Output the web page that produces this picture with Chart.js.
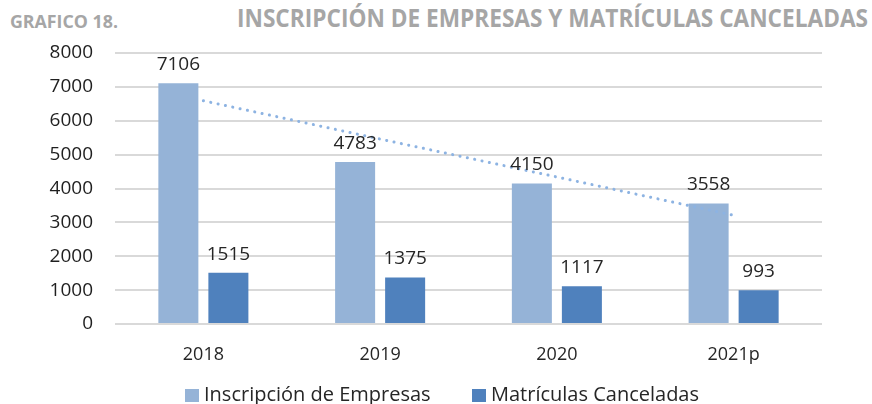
<!DOCTYPE html>
<html>
<head>
<meta charset="utf-8">
<script src="https://cdn.jsdelivr.net/npm/chart.js@4.4.1/dist/chart.umd.min.js"></script>
<style>
  html, body { margin: 0; padding: 0; background: #fff; }
  #wrap { position: relative; width: 872px; height: 404px; overflow: hidden; }
  #grafico { position: absolute; left: 0; top: 0; }
  .titulo { position: absolute; font-family: "Open Sans", sans-serif; font-weight: 700; color: #a6a6a6; white-space: nowrap; transform-origin: 0 0; }
  #t_num { left: 10px; top: 10px; font-size: 17px; }
  #t_main { left: 237px; top: 0px; font-size: 25px; }
  .leg { position: absolute; top: 380px; font-family: "Open Sans", sans-serif; font-size: 20px; color: #262626; white-space: nowrap; line-height: 28px; }
  .leg i { display: inline-block; width: 14px; height: 13px; margin-right: 5px; vertical-align: -1px; }
</style>
</head>
<body>
<div id="wrap">
  <div class="titulo" id="t_num">GRAFICO 18.</div>
  <div class="titulo" id="t_main">INSCRIPCIÓN DE EMPRESAS Y MATRÍCULAS CANCELADAS</div>
  <canvas id="grafico" width="872" height="404"></canvas>
  <div class="leg" id="leg0" style="left:185px"></div>
  <div class="leg" id="leg1" style="left:472px"></div>
</div>
<script>
// dados
const anos = ['2018', '2019', '2020', '2021p']
const inscripcion = [7106, 4783, 4150, 3558]
const canceladas = [1515, 1375, 1117, 993]
// linea de tendencia
const tendencia = [6590, 5460, 4340, 3210]
const ticks_y = [0, 1000, 2000, 3000, 4000, 5000, 6000, 7000, 8000]

const cor_inscripcion = '#95b3d7'
const cor_canceladas = '#4f81bd'

// ajustar largura dos titulos
function ajustar(id, largura) {
    const el = document.getElementById(id)
    const w = el.getBoundingClientRect().width
    el.style.transform = 'scaleX(' + (largura / w) + ')'
}
ajustar('t_num', 108)
ajustar('t_main', 631)

const fonte = '"Open Sans", sans-serif'

// rotulos em cima das barras
const rotulos = {
    id: 'rotulos',
    afterDatasetsDraw(chart) {
        const ctx = chart.ctx
        ctx.save()
        ctx.font = '19px ' + fonte
        ctx.fillStyle = '#262626'
        ctx.textAlign = 'center'
        ctx.textBaseline = 'alphabetic'
        chart.data.datasets.forEach((ds, i) => {
            if (ds.type == 'line') return
            chart.getDatasetMeta(i).data.forEach((bar, j) => {
                ctx.fillText(ds.data[j], bar.x, bar.y - 13)
            })
        })
        ctx.restore()
    }
}

const config = {
    type: 'bar',
    data: {
        labels: anos,
        datasets: [
            {
                type: 'line',
                label: 'Tendencia',
                data: tendencia,
                borderColor: '#8db3e2',
                borderWidth: 3,
                borderDash: [0.1, 7.4],
                borderCapStyle: 'round',
                pointRadius: 0,
                fill: false,
                order: 0
            },
            {
                label: 'Inscripción de Empresas',
                data: inscripcion,
                backgroundColor: cor_inscripcion,
                order: 1
            },
            {
                label: 'Matrículas Canceladas',
                data: canceladas,
                backgroundColor: cor_canceladas,
                order: 1
            }
        ]
    },
    options: {
        responsive: false,
        animation: false,
        categoryPercentage: 0.566,
        barPercentage: 0.8,
        layout: { padding: { top: 53, right: 50, left: 0, bottom: 0 } },
        scales: {
            x: {
                grid: { display: false },
                border: { display: false },
                ticks: { color: '#262626', font: { family: fonte, size: 18 }, padding: 12 },
                afterFit: (s) => { s.height = 80 }
            },
            y: {
                min: 0,
                max: 8000,
                afterBuildTicks: (s) => { s.ticks = ticks_y.map(v => ({ value: v })) },
                grid: { color: '#d9d9d9', lineWidth: 2, drawTicks: false },
                border: { display: false },
                ticks: {
                    color: '#1f1f1f',
                    font: { family: fonte, size: 19, weight: 500 },
                    padding: 22,
                    callback: (v) => String(v)
                },
                afterFit: (s) => { s.width = 115 }
            }
        },
        plugins: {
            legend: { display: false },
            tooltip: { enabled: false }
        }
    },
    plugins: [rotulos]
}

const grafico = new Chart(document.getElementById('grafico'), config)

// legenda em html
const cores = [cor_inscripcion, cor_canceladas]
;[1, 2].forEach((d, k) => {
    const el = document.getElementById('leg' + k)
    el.innerHTML = '<i style="background:' + cores[k] + '"></i>' + grafico.data.datasets[d].label
})
</script>
</body>
</html>
